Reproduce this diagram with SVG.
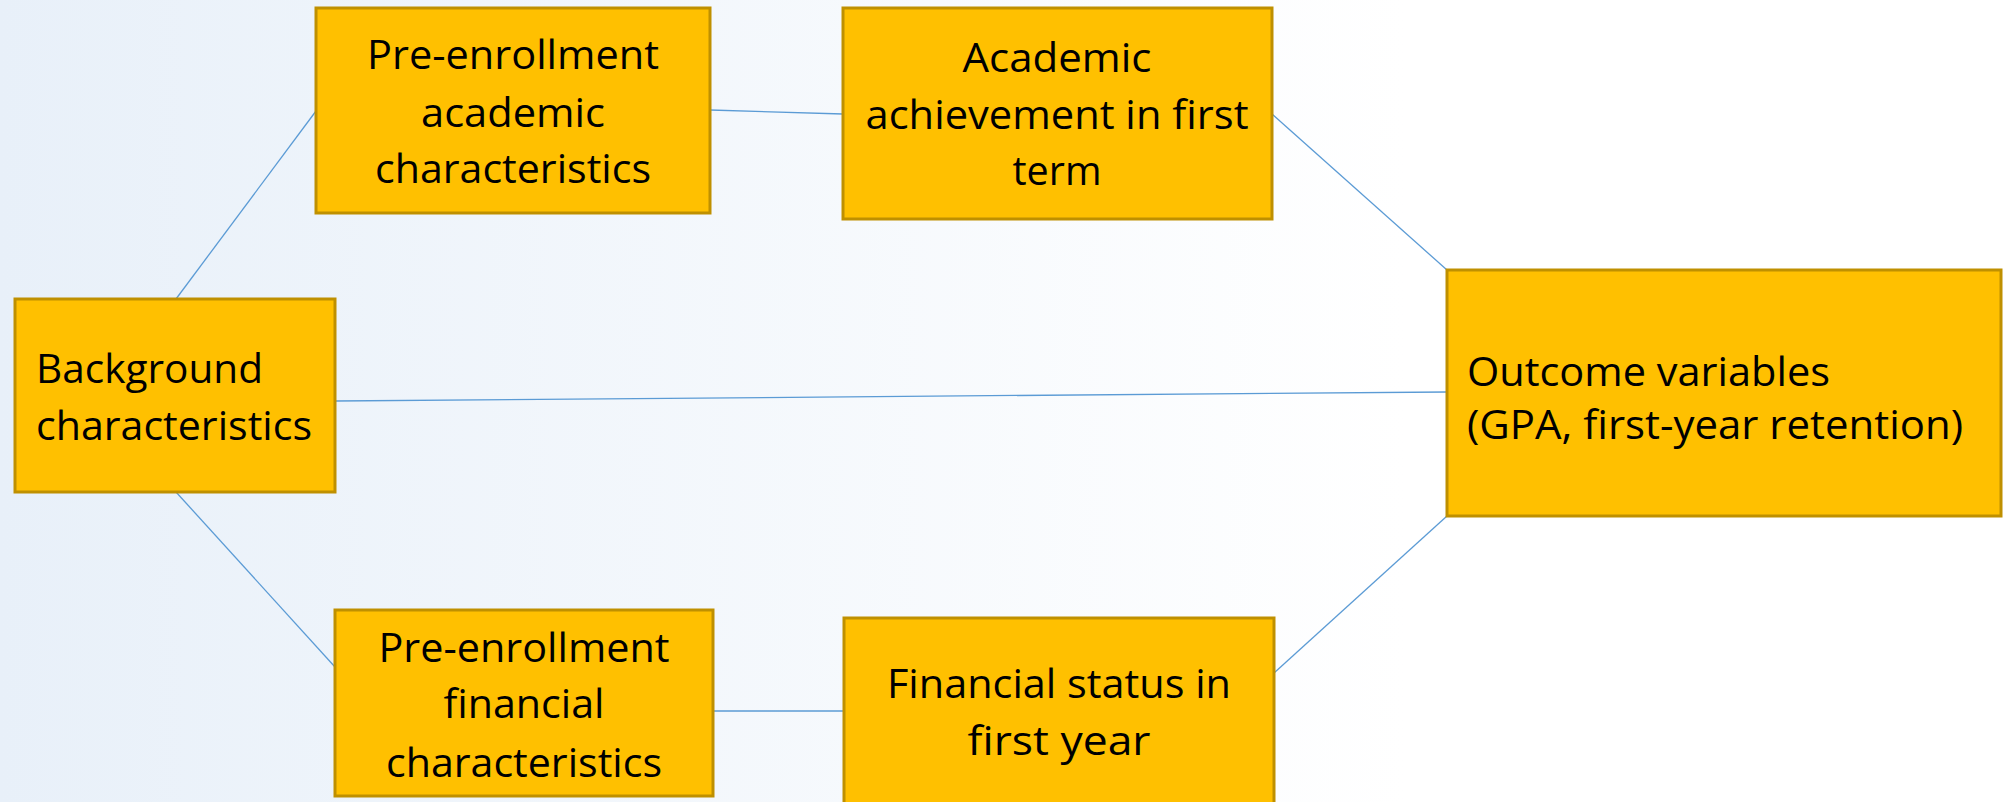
<svg xmlns="http://www.w3.org/2000/svg" width="2008" height="802" viewBox="0 0 2008 802">
  <defs>
    <linearGradient id="bg" x1="0" y1="0" x2="1" y2="0">
      <stop offset="0" stop-color="#E8F0F9"/>
      <stop offset="0.7" stop-color="#FFFFFF"/>
      <stop offset="1" stop-color="#FFFFFF"/>
    </linearGradient>
    <style>
      .box { fill: #FFC000; stroke: #BF9000; stroke-width: 3; }
      .lbl { font-family: "Open Sans", "Noto Sans", "Liberation Sans", sans-serif; font-size: 40px; fill: #000000; }
      .mid { text-anchor: middle; }
      .conn line { stroke: #5B9BD5; stroke-width: 1.3; fill: none; }
    </style>
  </defs>
  <rect x="0" y="0" width="2008" height="802" fill="url(#bg)"/>

  <g id="connectors" class="conn">
    <line x1="176" y1="299" x2="316" y2="111"/>
    <line x1="710" y1="110" x2="843" y2="114"/>
    <line x1="335" y1="401" x2="1447" y2="392"/>
    <line x1="1272" y1="114" x2="1447" y2="270"/>
    <line x1="1447" y1="516" x2="1274" y2="673"/>
    <line x1="176" y1="492" x2="335" y2="667"/>
    <line x1="713" y1="711" x2="844" y2="711"/>
  </g>

  <g id="node-pre-academic">
    <rect class="box" x="316" y="8" width="394" height="205"/>
    <text class="lbl mid" x="513" y="69" textLength="292" lengthAdjust="spacingAndGlyphs">Pre-enrollment</text>
    <text class="lbl mid" x="513" y="127" textLength="184" lengthAdjust="spacingAndGlyphs">academic</text>
    <text class="lbl mid" x="513" y="183" textLength="276" lengthAdjust="spacingAndGlyphs">characteristics</text>
  </g>

  <g id="node-achievement">
    <rect class="box" x="843" y="8" width="429" height="211"/>
    <text class="lbl mid" x="1057" y="72" textLength="189" lengthAdjust="spacingAndGlyphs">Academic</text>
    <text class="lbl mid" x="1057" y="129" textLength="383" lengthAdjust="spacingAndGlyphs">achievement in first</text>
    <text class="lbl mid" x="1057" y="185" textLength="89" lengthAdjust="spacingAndGlyphs">term</text>
  </g>

  <g id="node-background">
    <rect class="box" x="15" y="299" width="320" height="193"/>
    <text class="lbl" x="36" y="383" textLength="227" lengthAdjust="spacingAndGlyphs">Background</text>
    <text class="lbl" x="36" y="440" textLength="276" lengthAdjust="spacingAndGlyphs">characteristics</text>
  </g>

  <g id="node-outcome">
    <rect class="box" x="1447" y="270" width="554" height="246"/>
    <text class="lbl" x="1467" y="386" textLength="363" lengthAdjust="spacingAndGlyphs">Outcome variables</text>
    <text class="lbl" x="1467" y="439" textLength="496" lengthAdjust="spacingAndGlyphs">(GPA, first-year retention)</text>
  </g>

  <g id="node-pre-financial">
    <rect class="box" x="335" y="610" width="378" height="186"/>
    <text class="lbl mid" x="524" y="662" textLength="291" lengthAdjust="spacingAndGlyphs">Pre-enrollment</text>
    <text class="lbl mid" x="524" y="718" textLength="161" lengthAdjust="spacingAndGlyphs">financial</text>
    <text class="lbl mid" x="524" y="777" textLength="276" lengthAdjust="spacingAndGlyphs">characteristics</text>
  </g>

  <g id="node-financial-status">
    <rect class="box" x="844" y="618" width="430" height="220"/>
    <text class="lbl mid" x="1059" y="698" textLength="344" lengthAdjust="spacingAndGlyphs">Financial status in</text>
    <text class="lbl mid" x="1059" y="755" textLength="183" lengthAdjust="spacingAndGlyphs">first year</text>
  </g>
</svg>
